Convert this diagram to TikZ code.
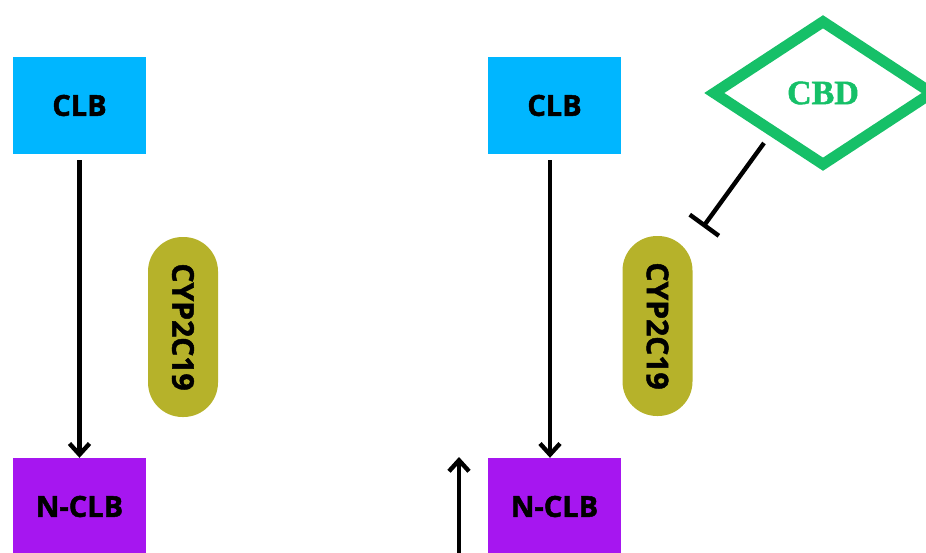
\documentclass[tikz,border=0pt]{standalone}
\usepackage{fontspec}
\setmainfont{Open Sans}[BoldFeatures={FakeBold=1.6}]
\newfontfamily\serifbd{Liberation Serif}[BoldFeatures={FakeBold=1.4}]
\usetikzlibrary{arrows.meta,shapes.geometric}
\definecolor{clbblue}{RGB}{0,182,255}
\definecolor{nclbpurple}{RGB}{166,22,240}
\definecolor{cypolive}{RGB}{182,178,42}
\definecolor{cbdgreen}{RGB}{22,192,104}
\tikzset{
  clbbox/.style={fill=clbblue, minimum width=133pt, minimum height=97pt, inner sep=0pt, font=\fontsize{29}{31}\selectfont\bfseries},
  nclbbox/.style={fill=nclbpurple, minimum width=133pt, minimum height=97pt, inner sep=0pt, font=\fontsize{29}{31}\selectfont\bfseries},
  pill/.style={fill=cypolive, rounded corners=34.5pt, minimum width=180pt, minimum height=70pt, inner sep=0pt, rotate=-90, font=\fontsize{30}{32}\selectfont\bfseries},
  flow/.style={line width=4.4pt, -{Straight Barb[length=11pt,width=20pt,line width=4.4pt]}},
  inhib/.style={line width=4.4pt, -{Bar[width=36pt,line width=4.4pt]}},
  cbdshape/.style={diamond, draw=cbdgreen, line width=11pt, minimum width=222pt, minimum height=147pt, inner sep=0pt, text=cbdgreen, font=\serifbd\fontsize{34}{36}\selectfont\bfseries}
}
\begin{document}
\begin{tikzpicture}[x=1pt,y=-1pt]
\useasboundingbox (0,0) rectangle (926,552);
% left panel
\node[clbbox] (clbL) at (79.5,105.5) {CLB};
\node[nclbbox] (nclbL) at (79.5,506.5) {N-CLB};
\node[pill] (cypL) at (183,327) {CYP2C19};
\draw[flow, shorten <=6pt] (clbL) -- (nclbL);
% right panel
\node[clbbox] (clbR) at (554.5,105.5) {CLB};
\node[nclbbox] (nclbR) at (554.5,506.5) {N-CLB};
\node[pill] (cypR) at (657.5,326) {CYP2C19};
\draw[flow, shorten <=6pt] (clbR.south -| 550,0) -- (nclbR.north -| 550,0);
\node[cbdshape] (cbd) at (823,93) {CBD};
\coordinate (inhA) at (764,143);
\coordinate (inhB) at (703,227);
\draw[inhib] (inhA) -- (inhB);
\coordinate (upA) at (459,556);
\coordinate (upB) at (459,457);
\draw[flow] (upA) -- (upB);
\end{tikzpicture}
\end{document}
